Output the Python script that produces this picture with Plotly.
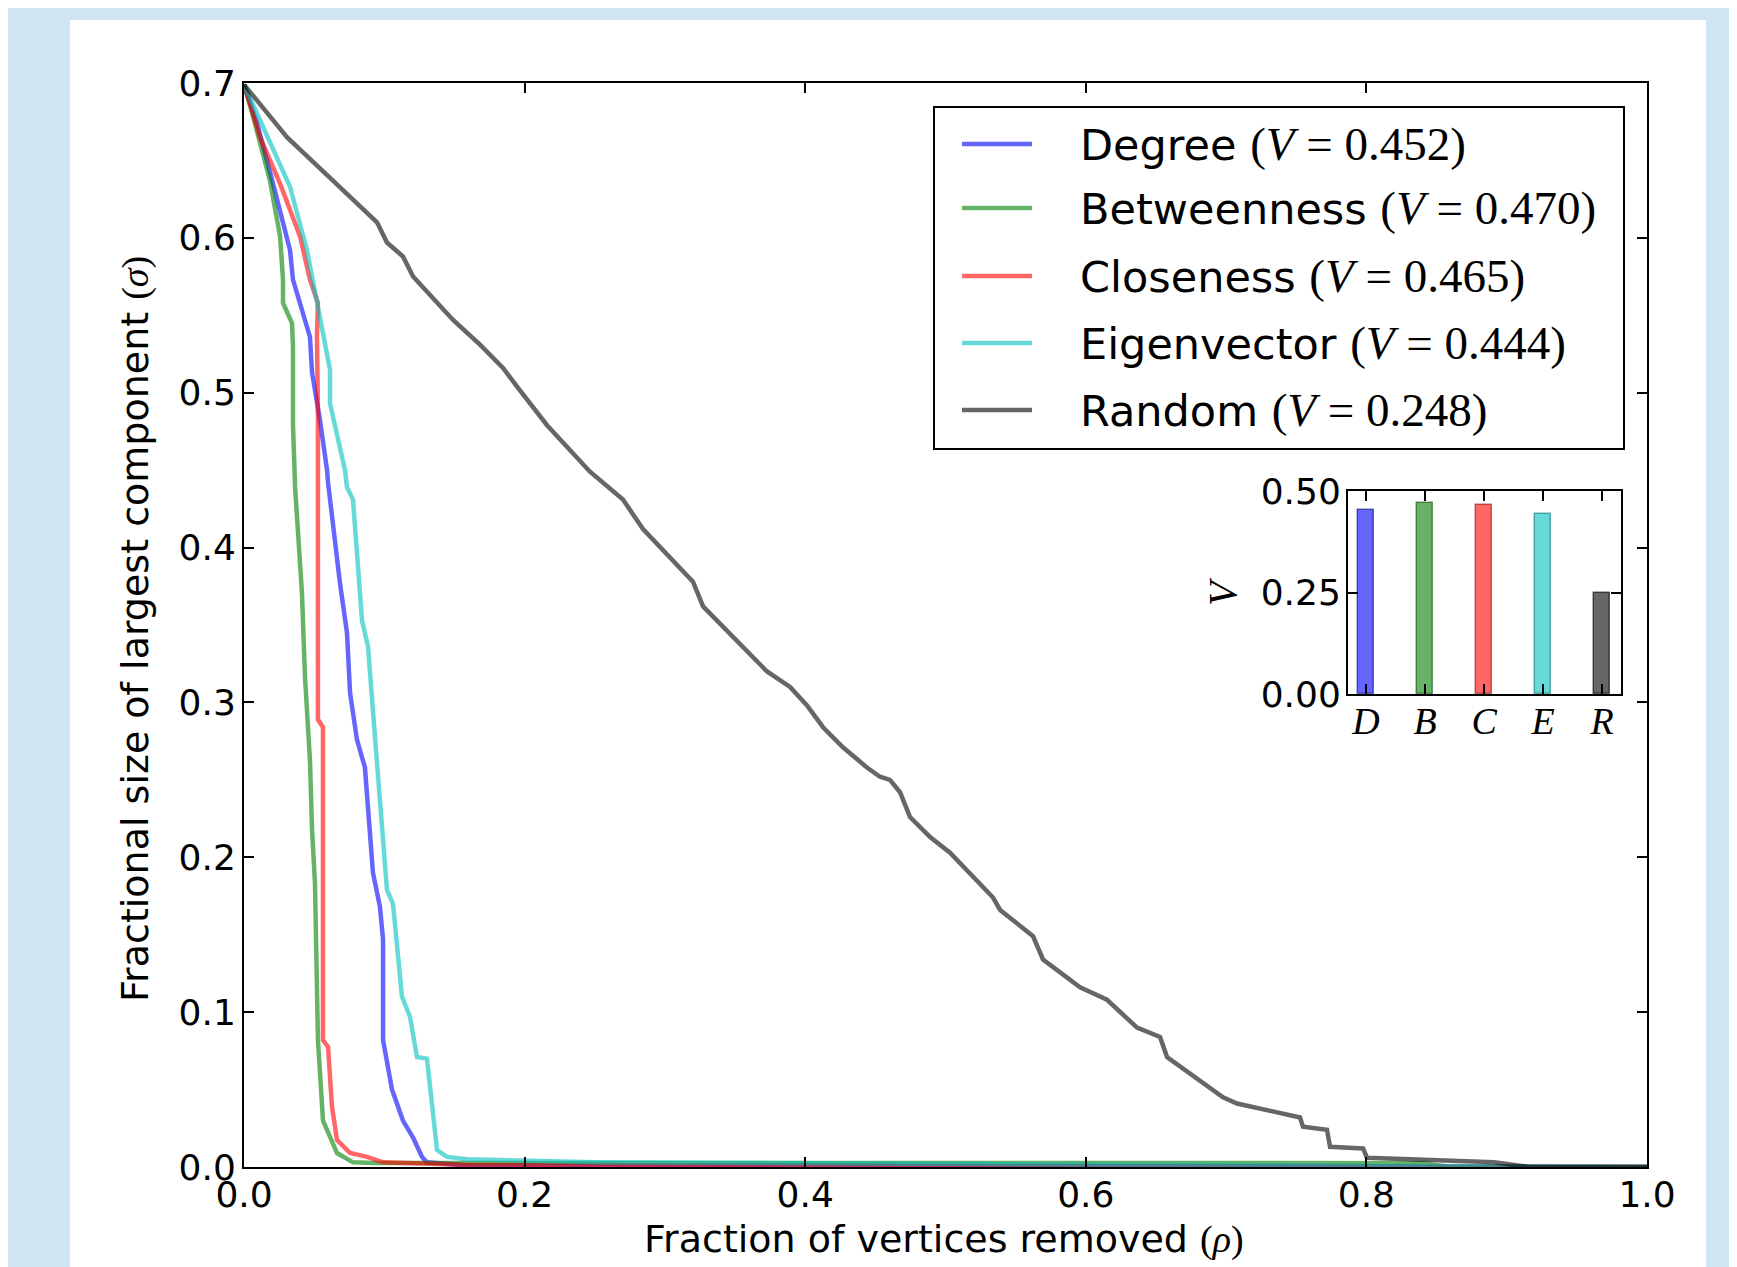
import plotly.graph_objects as go

# ---------------- data ----------------
degree_x = [0.0, 0.0093, 0.0207, 0.0328, 0.0349, 0.0470, 0.0485, 0.0542, 0.0592, 0.0599, 0.0684, 0.0734,
            0.0756, 0.0805, 0.0862, 0.0919, 0.0969, 0.0991, 0.0991, 0.1055, 0.1133, 0.1205, 0.1269, 0.1304,
            0.160, 1.0]
degree_y = [0.699, 0.674, 0.635, 0.592, 0.573, 0.536, 0.513, 0.482, 0.450, 0.442, 0.377, 0.345,
            0.306, 0.276, 0.258, 0.190, 0.168, 0.147, 0.082, 0.050, 0.030, 0.019, 0.0065, 0.003,
            0.001, 0.0]

betw_x = [0.0, 0.0057, 0.0185, 0.0257, 0.0278, 0.0278, 0.0342, 0.0349, 0.0349, 0.0364, 0.0413, 0.0435,
          0.0470, 0.0485, 0.0506, 0.0527, 0.0563, 0.0663, 0.0777, 0.0919, 0.840, 0.860, 1.0]
betw_y = [0.699, 0.681, 0.637, 0.601, 0.573, 0.558, 0.545, 0.530, 0.480, 0.439, 0.371, 0.316,
          0.263, 0.218, 0.183, 0.082, 0.030, 0.009, 0.003, 0.0026, 0.0025, 0.0, 0.0]

close_x = [0.0, 0.0114, 0.0257, 0.0399, 0.0470, 0.0527, 0.0520, 0.0527, 0.0527, 0.0563, 0.0563, 0.0599,
           0.0627, 0.0663, 0.0756, 0.0877, 0.0991, 0.161, 1.0]
close_y = [0.699, 0.665, 0.635, 0.601, 0.573, 0.558, 0.536, 0.487, 0.289, 0.284, 0.082, 0.0775,
           0.039, 0.0174, 0.009, 0.0065, 0.003, 0.0013, 0.0]

eigen_x = [0.0, 0.0114, 0.0328, 0.0449, 0.0542, 0.0613, 0.0613, 0.0720, 0.0734, 0.0777, 0.0841, 0.0884,
           0.0941, 0.1019, 0.1062, 0.1126, 0.1183, 0.1233, 0.1304, 0.1376, 0.1447, 0.159, 0.1825, 0.25, 1.0]
eigen_y = [0.699, 0.676, 0.633, 0.592, 0.549, 0.515, 0.493, 0.450, 0.439, 0.431, 0.353, 0.336,
           0.269, 0.179, 0.170, 0.110, 0.097, 0.071, 0.070, 0.011, 0.0065, 0.005, 0.0045, 0.003, 0.0]

random_x = [0.0, 0.0306, 0.0634, 0.0948, 0.1019, 0.1133, 0.1205, 0.1490, 0.1682, 0.1846, 0.1946, 0.2160,
            0.2466, 0.2701, 0.2844, 0.3200, 0.3272, 0.3728, 0.3892, 0.4013, 0.4127, 0.4269, 0.4440, 0.4533,
            0.4604, 0.4676, 0.4747, 0.4890, 0.5032, 0.5339, 0.5389, 0.5624, 0.5695, 0.5959, 0.6151, 0.6365,
            0.6529, 0.6579, 0.6978, 0.7078, 0.7527, 0.7548, 0.7719, 0.7741, 0.7976, 0.8004, 0.8311, 0.8909,
            0.9166, 1.0]
random_y = [0.699, 0.665, 0.637, 0.610, 0.597, 0.588, 0.575, 0.547, 0.531, 0.516, 0.504, 0.479,
            0.449, 0.431, 0.412, 0.378, 0.362, 0.320, 0.310, 0.298, 0.284, 0.271, 0.258, 0.252,
            0.250, 0.242, 0.226, 0.213, 0.203, 0.174, 0.166, 0.149, 0.134, 0.116, 0.108, 0.090,
            0.084, 0.071, 0.045, 0.041, 0.032, 0.026, 0.024, 0.013, 0.012, 0.006, 0.005, 0.003,
            0.0, 0.0]

series_names = ["Degree", "Betweenness", "Closeness", "Eigenvector", "Random"]
series_v = [0.452, 0.470, 0.465, 0.444, 0.248]
inset_labels = ["D", "B", "C", "E", "R"]
series_x = [degree_x, betw_x, close_x, eigen_x, random_x]
series_y = [degree_y, betw_y, close_y, eigen_y, random_y]

x_ticks = [0.0, 0.2, 0.4, 0.6, 0.8, 1.0]
y_ticks = [0.0, 0.1, 0.2, 0.3, 0.4, 0.5, 0.6, 0.7]
inset_y_ticks = [0.0, 0.25, 0.5]
inset_y_ticktext = ["0.00", "0.25", "0.50"]

# ---------------- style ----------------
colors = ["rgba(0,0,255,0.6)", "rgba(0,128,0,0.6)", "rgba(255,0,0,0.6)",
          "rgba(0,191,191,0.6)", "rgba(0,0,0,0.6)"]
edge_colors = ["rgba(0,0,120,0.55)", "rgba(0,70,0,0.55)", "rgba(140,0,0,0.55)",
               "rgba(0,110,110,0.55)", "rgba(0,0,0,0.6)"]
SANS = "DejaVu Sans"
SERIF = "Liberation Serif"
W, H = 1737, 1267
OFF = 8  # page body margin offset
# plot area in reference-page pixels
RL, RR, RT, RB = 244, 1647, 83, 1167
L, R, T, B = RL - OFF, RR - OFF, RT - OFF, RB - OFF


def px(xp):
    return (xp - RL) / (RR - RL)


def py(yp):
    return (RB - yp) / (RB - RT)


fig = go.Figure()

for name, xs, ys, c in zip(series_names, series_x, series_y, colors):
    fig.add_trace(go.Scatter(x=xs, y=ys, mode="lines", name=name,
                             line=dict(color=c, width=4.5), showlegend=False,
                             xaxis="x", yaxis="y"))

fig.add_trace(go.Bar(x=list(range(len(series_v))), y=series_v, width=0.27,
                     marker=dict(color=colors, line=dict(color=edge_colors, width=1.5)),
                     xaxis="x2", yaxis="y2", showlegend=False))

axis_common = dict(showline=True, linecolor="black", linewidth=2, mirror="allticks",
                   ticks="inside", ticklen=10, tickwidth=1.5, tickcolor="black",
                   showgrid=False, zeroline=False,
                   tickfont=dict(family=SANS, size=36, color="black"))

fig.update_layout(
    width=W, height=H,
    paper_bgcolor="#cfe5f3", plot_bgcolor="white",
    margin=dict(l=L, r=W - R, t=T, b=H - B, autoexpand=False),
    xaxis=dict(range=[0, 1], tickvals=x_ticks, tickformat=".1f", ticklabelstandoff=-5,
               domain=[0, 1], **axis_common),
    yaxis=dict(range=[0, 0.7], tickvals=y_ticks, tickformat=".1f", ticklabelstandoff=-1,
               domain=[0, 1], **axis_common),
    xaxis2=dict(range=[-0.305, 4.32], domain=[px(1348), px(1621)], anchor="y2",
                tickvals=list(range(len(inset_labels))),
                ticktext=[f"<i>{s}</i>" for s in inset_labels],
                ticklabelstandoff=-8,
                **{**axis_common, "tickfont": dict(family=SERIF, size=38, color="black")}),
    yaxis2=dict(range=[0, 0.5], domain=[py(694), py(491)], anchor="x2",
                tickvals=inset_y_ticks, ticktext=inset_y_ticktext, ticklabelstandoff=-2,
                **axis_common),
    showlegend=False,
    bargap=0,
)

shapes = [
    # white panel
    dict(type="rect", xref="paper", yref="paper", x0=px(70), x1=px(1706), y0=py(1300), y1=py(20),
         fillcolor="white", line=dict(width=0), layer="below"),
    # legend border
    dict(type="rect", xref="paper", yref="paper", x0=px(934), x1=px(1624), y0=py(449), y1=py(107),
         fillcolor="white", line=dict(color="black", width=2), layer="above"),
]
annotations = []
row_y = [144, 208, 276, 343, 410]
for name, v, c, yy in zip(series_names, series_v, colors, row_y):
    shapes.append(dict(type="line", xref="paper", yref="paper", x0=px(962), x1=px(1032),
                       y0=py(yy), y1=py(yy), line=dict(color=c, width=4.5), layer="above"))
    annotations.append(dict(
        xref="paper", yref="paper", x=px(1078), y=py(yy), xanchor="left", yanchor="middle",
        showarrow=False,
        text=f"{name} <span style='font-family:{SERIF};font-size:47px'>(<i>V</i> = {v:.3f})</span>",
        font=dict(family=SANS, size=43, color="black")))

# axis titles
annotations.append(dict(xref="paper", yref="paper", x=px(944), y=py(1239), xanchor="center",
                        yanchor="middle", showarrow=False,
                        text=f"Fraction of vertices removed <span style='font-family:{SERIF}'>(<i>ρ</i>)</span>",
                        font=dict(family=SANS, size=38, color="black")))
annotations.append(dict(xref="paper", yref="paper", x=px(135), y=py(629), xanchor="center",
                        yanchor="middle", showarrow=False, textangle=-90,
                        text=f"Fractional size of largest component <span style='font-family:{SERIF}'>(<i>σ</i>)</span>",
                        font=dict(family=SANS, size=38, color="black")))
annotations.append(dict(xref="paper", yref="paper", x=px(1222), y=py(592), xanchor="center",
                        yanchor="middle", showarrow=False, textangle=-90,
                        text="<i>V</i>", font=dict(family=SERIF, size=40, color="black")))

fig.update_layout(shapes=shapes, annotations=annotations)

fig.write_html("out.html")
